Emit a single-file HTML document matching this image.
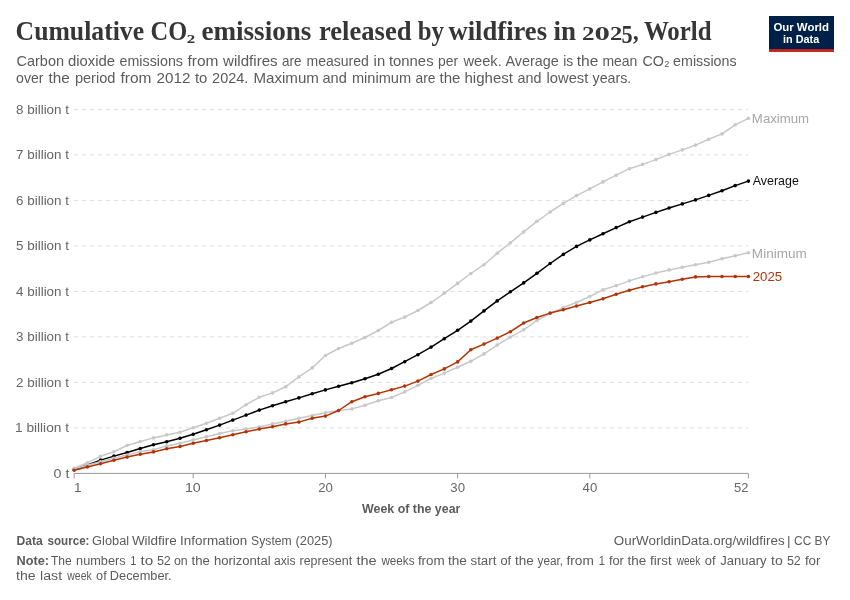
<!DOCTYPE html>
<html lang="en"><head><meta charset="utf-8"><title>Cumulative CO2 emissions released by wildfires in 2025, World</title>
<style>
html,body{margin:0;padding:0;background:#fff;}
body{width:850px;height:600px;overflow:hidden;font-family:"Liberation Sans",sans-serif;}
svg{display:block}
svg text{font-family:"Liberation Sans",sans-serif;white-space:pre;}
svg text.tt{font-family:"Liberation Serif",serif;}
</style></head><body>
<svg width="850" height="600" viewBox="0 0 850 600">
<rect width="850" height="600" fill="#fff"/>
<g id="logo">
<rect x="769" y="16" width="65" height="36" fill="#002147"/>
<rect x="769" y="49.2" width="65" height="2.8" fill="#ce261e"/>
<text x="773.40" y="30.8" font-weight="bold" font-size="11.3px" fill="#fff" textLength="55.60" lengthAdjust="spacingAndGlyphs">Our World</text>
<text x="783.00" y="42.6" font-weight="bold" font-size="11.3px" fill="#fff" textLength="36.21" lengthAdjust="spacingAndGlyphs">in Data</text>
</g>
<g id="grid">
<line x1="74.2" x2="748.4" y1="427.9" y2="427.9" stroke="#ddd" stroke-width="1" stroke-dasharray="4.1,3.9"/>
<line x1="74.2" x2="748.4" y1="382.4" y2="382.4" stroke="#ddd" stroke-width="1" stroke-dasharray="4.1,3.9"/>
<line x1="74.2" x2="748.4" y1="336.9" y2="336.9" stroke="#ddd" stroke-width="1" stroke-dasharray="4.1,3.9"/>
<line x1="74.2" x2="748.4" y1="291.4" y2="291.4" stroke="#ddd" stroke-width="1" stroke-dasharray="4.1,3.9"/>
<line x1="74.2" x2="748.4" y1="245.9" y2="245.9" stroke="#ddd" stroke-width="1" stroke-dasharray="4.1,3.9"/>
<line x1="74.2" x2="748.4" y1="200.4" y2="200.4" stroke="#ddd" stroke-width="1" stroke-dasharray="4.1,3.9"/>
<line x1="74.2" x2="748.4" y1="154.9" y2="154.9" stroke="#ddd" stroke-width="1" stroke-dasharray="4.1,3.9"/>
<line x1="74.2" x2="748.4" y1="109.4" y2="109.4" stroke="#ddd" stroke-width="1" stroke-dasharray="4.1,3.9"/>
</g>
<line x1="74.2" x2="748.4" y1="473.4" y2="473.4" stroke="#999" stroke-width="1"/>
<line x1="74.2" x2="74.2" y1="473.4" y2="478.4" stroke="#999" stroke-width="1"/>
<line x1="193.2" x2="193.2" y1="473.4" y2="478.4" stroke="#999" stroke-width="1"/>
<line x1="325.4" x2="325.4" y1="473.4" y2="478.4" stroke="#999" stroke-width="1"/>
<line x1="457.6" x2="457.6" y1="473.4" y2="478.4" stroke="#999" stroke-width="1"/>
<line x1="589.8" x2="589.8" y1="473.4" y2="478.4" stroke="#999" stroke-width="1"/>
<line x1="748.4" x2="748.4" y1="473.4" y2="478.4" stroke="#999" stroke-width="1"/>

<g id="series">
<g fill="#000000" stroke="none"><polyline points="74.2,469.5 87.4,465.0 100.6,460.1 113.9,456.1 127.1,452.5 140.3,448.5 153.5,444.7 166.7,441.7 180.0,438.3 193.2,434.3 206.4,429.7 219.6,425.1 232.8,420.1 246.1,415.1 259.3,410.1 272.5,405.7 285.7,401.7 298.9,397.9 312.2,393.7 325.4,389.9 338.6,386.3 351.8,382.7 365.0,378.7 378.3,374.2 391.5,368.5 404.7,361.7 417.9,354.7 431.1,347.1 444.3,338.7 457.6,330.3 470.8,321.1 484.0,310.9 497.2,300.9 510.4,291.8 523.7,282.9 536.9,273.3 550.1,263.5 563.3,254.4 576.5,246.4 589.8,239.9 603.0,233.7 616.2,227.6 629.4,221.8 642.6,217.1 655.9,212.4 669.1,208.0 682.3,203.9 695.5,199.9 708.7,195.4 722.0,190.8 735.2,185.6 748.4,181.1" fill="none" stroke="#000000" stroke-width="1.5" stroke-linejoin="round" stroke-linecap="round"/><circle cx="74.2" cy="469.5" r="1.8"/><circle cx="87.4" cy="465.0" r="1.8"/><circle cx="100.6" cy="460.1" r="1.8"/><circle cx="113.9" cy="456.1" r="1.8"/><circle cx="127.1" cy="452.5" r="1.8"/><circle cx="140.3" cy="448.5" r="1.8"/><circle cx="153.5" cy="444.7" r="1.8"/><circle cx="166.7" cy="441.7" r="1.8"/><circle cx="180.0" cy="438.3" r="1.8"/><circle cx="193.2" cy="434.3" r="1.8"/><circle cx="206.4" cy="429.7" r="1.8"/><circle cx="219.6" cy="425.1" r="1.8"/><circle cx="232.8" cy="420.1" r="1.8"/><circle cx="246.1" cy="415.1" r="1.8"/><circle cx="259.3" cy="410.1" r="1.8"/><circle cx="272.5" cy="405.7" r="1.8"/><circle cx="285.7" cy="401.7" r="1.8"/><circle cx="298.9" cy="397.9" r="1.8"/><circle cx="312.2" cy="393.7" r="1.8"/><circle cx="325.4" cy="389.9" r="1.8"/><circle cx="338.6" cy="386.3" r="1.8"/><circle cx="351.8" cy="382.7" r="1.8"/><circle cx="365.0" cy="378.7" r="1.8"/><circle cx="378.3" cy="374.2" r="1.8"/><circle cx="391.5" cy="368.5" r="1.8"/><circle cx="404.7" cy="361.7" r="1.8"/><circle cx="417.9" cy="354.7" r="1.8"/><circle cx="431.1" cy="347.1" r="1.8"/><circle cx="444.3" cy="338.7" r="1.8"/><circle cx="457.6" cy="330.3" r="1.8"/><circle cx="470.8" cy="321.1" r="1.8"/><circle cx="484.0" cy="310.9" r="1.8"/><circle cx="497.2" cy="300.9" r="1.8"/><circle cx="510.4" cy="291.8" r="1.8"/><circle cx="523.7" cy="282.9" r="1.8"/><circle cx="536.9" cy="273.3" r="1.8"/><circle cx="550.1" cy="263.5" r="1.8"/><circle cx="563.3" cy="254.4" r="1.8"/><circle cx="576.5" cy="246.4" r="1.8"/><circle cx="589.8" cy="239.9" r="1.8"/><circle cx="603.0" cy="233.7" r="1.8"/><circle cx="616.2" cy="227.6" r="1.8"/><circle cx="629.4" cy="221.8" r="1.8"/><circle cx="642.6" cy="217.1" r="1.8"/><circle cx="655.9" cy="212.4" r="1.8"/><circle cx="669.1" cy="208.0" r="1.8"/><circle cx="682.3" cy="203.9" r="1.8"/><circle cx="695.5" cy="199.9" r="1.8"/><circle cx="708.7" cy="195.4" r="1.8"/><circle cx="722.0" cy="190.8" r="1.8"/><circle cx="735.2" cy="185.6" r="1.8"/><circle cx="748.4" cy="181.1" r="1.8"/></g>
<g fill="#c8c8c8" stroke="none"><polyline points="74.2,468.3 87.4,462.7 100.6,456.3 113.9,451.7 127.1,445.5 140.3,441.5 153.5,437.9 166.7,434.9 180.0,432.3 193.2,427.7 206.4,423.3 219.6,418.3 232.8,413.3 246.1,404.7 259.3,397.3 272.5,392.9 285.7,386.7 298.9,376.9 312.2,367.9 325.4,355.5 338.6,348.5 351.8,343.3 365.0,337.5 378.3,330.5 391.5,322.3 404.7,317.1 417.9,310.5 431.1,302.5 444.3,293.3 457.6,283.4 470.8,273.5 484.0,264.7 497.2,253.2 510.4,242.8 523.7,231.9 536.9,221.3 550.1,212.0 563.3,203.4 576.5,195.6 589.8,188.9 603.0,181.9 616.2,175.2 629.4,168.7 642.6,164.4 655.9,159.6 669.1,154.4 682.3,149.9 695.5,145.1 708.7,139.3 722.0,133.9 735.2,124.8 748.4,118.3" fill="none" stroke="#c8c8c8" stroke-width="1.5" stroke-linejoin="round" stroke-linecap="round"/><circle cx="74.2" cy="468.3" r="1.8"/><circle cx="87.4" cy="462.7" r="1.8"/><circle cx="100.6" cy="456.3" r="1.8"/><circle cx="113.9" cy="451.7" r="1.8"/><circle cx="127.1" cy="445.5" r="1.8"/><circle cx="140.3" cy="441.5" r="1.8"/><circle cx="153.5" cy="437.9" r="1.8"/><circle cx="166.7" cy="434.9" r="1.8"/><circle cx="180.0" cy="432.3" r="1.8"/><circle cx="193.2" cy="427.7" r="1.8"/><circle cx="206.4" cy="423.3" r="1.8"/><circle cx="219.6" cy="418.3" r="1.8"/><circle cx="232.8" cy="413.3" r="1.8"/><circle cx="246.1" cy="404.7" r="1.8"/><circle cx="259.3" cy="397.3" r="1.8"/><circle cx="272.5" cy="392.9" r="1.8"/><circle cx="285.7" cy="386.7" r="1.8"/><circle cx="298.9" cy="376.9" r="1.8"/><circle cx="312.2" cy="367.9" r="1.8"/><circle cx="325.4" cy="355.5" r="1.8"/><circle cx="338.6" cy="348.5" r="1.8"/><circle cx="351.8" cy="343.3" r="1.8"/><circle cx="365.0" cy="337.5" r="1.8"/><circle cx="378.3" cy="330.5" r="1.8"/><circle cx="391.5" cy="322.3" r="1.8"/><circle cx="404.7" cy="317.1" r="1.8"/><circle cx="417.9" cy="310.5" r="1.8"/><circle cx="431.1" cy="302.5" r="1.8"/><circle cx="444.3" cy="293.3" r="1.8"/><circle cx="457.6" cy="283.4" r="1.8"/><circle cx="470.8" cy="273.5" r="1.8"/><circle cx="484.0" cy="264.7" r="1.8"/><circle cx="497.2" cy="253.2" r="1.8"/><circle cx="510.4" cy="242.8" r="1.8"/><circle cx="523.7" cy="231.9" r="1.8"/><circle cx="536.9" cy="221.3" r="1.8"/><circle cx="550.1" cy="212.0" r="1.8"/><circle cx="563.3" cy="203.4" r="1.8"/><circle cx="576.5" cy="195.6" r="1.8"/><circle cx="589.8" cy="188.9" r="1.8"/><circle cx="603.0" cy="181.9" r="1.8"/><circle cx="616.2" cy="175.2" r="1.8"/><circle cx="629.4" cy="168.7" r="1.8"/><circle cx="642.6" cy="164.4" r="1.8"/><circle cx="655.9" cy="159.6" r="1.8"/><circle cx="669.1" cy="154.4" r="1.8"/><circle cx="682.3" cy="149.9" r="1.8"/><circle cx="695.5" cy="145.1" r="1.8"/><circle cx="708.7" cy="139.3" r="1.8"/><circle cx="722.0" cy="133.9" r="1.8"/><circle cx="735.2" cy="124.8" r="1.8"/><circle cx="748.4" cy="118.3" r="1.8"/></g>
<g fill="#c8c8c8" stroke="none"><polyline points="74.2,468.9 87.4,465.2 100.6,461.7 113.9,458.3 127.1,455.1 140.3,451.6 153.5,449.7 166.7,445.9 180.0,443.3 193.2,439.9 206.4,436.7 219.6,433.5 232.8,430.7 246.1,428.9 259.3,427.1 272.5,423.9 285.7,421.3 298.9,418.3 312.2,415.5 325.4,412.7 338.6,410.5 351.8,408.9 365.0,405.3 378.3,400.8 391.5,397.5 404.7,391.9 417.9,385.3 431.1,378.5 444.3,373.1 457.6,367.3 470.8,361.3 484.0,353.9 497.2,345.1 510.4,337.1 523.7,329.8 536.9,320.5 550.1,313.6 563.3,307.5 576.5,302.5 589.8,296.5 603.0,289.7 616.2,285.6 629.4,280.9 642.6,276.7 655.9,273.1 669.1,269.9 682.3,267.2 695.5,264.8 708.7,262.2 722.0,258.8 735.2,255.7 748.4,252.7" fill="none" stroke="#c8c8c8" stroke-width="1.5" stroke-linejoin="round" stroke-linecap="round"/><circle cx="74.2" cy="468.9" r="1.8"/><circle cx="87.4" cy="465.2" r="1.8"/><circle cx="100.6" cy="461.7" r="1.8"/><circle cx="113.9" cy="458.3" r="1.8"/><circle cx="127.1" cy="455.1" r="1.8"/><circle cx="140.3" cy="451.6" r="1.8"/><circle cx="153.5" cy="449.7" r="1.8"/><circle cx="166.7" cy="445.9" r="1.8"/><circle cx="180.0" cy="443.3" r="1.8"/><circle cx="193.2" cy="439.9" r="1.8"/><circle cx="206.4" cy="436.7" r="1.8"/><circle cx="219.6" cy="433.5" r="1.8"/><circle cx="232.8" cy="430.7" r="1.8"/><circle cx="246.1" cy="428.9" r="1.8"/><circle cx="259.3" cy="427.1" r="1.8"/><circle cx="272.5" cy="423.9" r="1.8"/><circle cx="285.7" cy="421.3" r="1.8"/><circle cx="298.9" cy="418.3" r="1.8"/><circle cx="312.2" cy="415.5" r="1.8"/><circle cx="325.4" cy="412.7" r="1.8"/><circle cx="338.6" cy="410.5" r="1.8"/><circle cx="351.8" cy="408.9" r="1.8"/><circle cx="365.0" cy="405.3" r="1.8"/><circle cx="378.3" cy="400.8" r="1.8"/><circle cx="391.5" cy="397.5" r="1.8"/><circle cx="404.7" cy="391.9" r="1.8"/><circle cx="417.9" cy="385.3" r="1.8"/><circle cx="431.1" cy="378.5" r="1.8"/><circle cx="444.3" cy="373.1" r="1.8"/><circle cx="457.6" cy="367.3" r="1.8"/><circle cx="470.8" cy="361.3" r="1.8"/><circle cx="484.0" cy="353.9" r="1.8"/><circle cx="497.2" cy="345.1" r="1.8"/><circle cx="510.4" cy="337.1" r="1.8"/><circle cx="523.7" cy="329.8" r="1.8"/><circle cx="536.9" cy="320.5" r="1.8"/><circle cx="550.1" cy="313.6" r="1.8"/><circle cx="563.3" cy="307.5" r="1.8"/><circle cx="576.5" cy="302.5" r="1.8"/><circle cx="589.8" cy="296.5" r="1.8"/><circle cx="603.0" cy="289.7" r="1.8"/><circle cx="616.2" cy="285.6" r="1.8"/><circle cx="629.4" cy="280.9" r="1.8"/><circle cx="642.6" cy="276.7" r="1.8"/><circle cx="655.9" cy="273.1" r="1.8"/><circle cx="669.1" cy="269.9" r="1.8"/><circle cx="682.3" cy="267.2" r="1.8"/><circle cx="695.5" cy="264.8" r="1.8"/><circle cx="708.7" cy="262.2" r="1.8"/><circle cx="722.0" cy="258.8" r="1.8"/><circle cx="735.2" cy="255.7" r="1.8"/><circle cx="748.4" cy="252.7" r="1.8"/></g>
<g fill="#B13507" stroke="none"><polyline points="74.2,470.3 87.4,466.9 100.6,463.7 113.9,460.3 127.1,457.1 140.3,454.3 153.5,451.9 166.7,448.7 180.0,446.5 193.2,443.3 206.4,440.5 219.6,437.8 232.8,434.7 246.1,431.7 259.3,429.1 272.5,426.7 285.7,423.9 298.9,422.1 312.2,418.3 325.4,416.1 338.6,410.5 351.8,401.7 365.0,396.7 378.3,393.4 391.5,389.7 404.7,386.1 417.9,381.1 431.1,374.5 444.3,368.9 457.6,361.9 470.8,349.7 484.0,344.1 497.2,338.1 510.4,331.7 523.7,323.0 536.9,317.5 550.1,313.1 563.3,309.7 576.5,306.0 589.8,302.5 603.0,298.8 616.2,294.3 629.4,290.2 642.6,286.7 655.9,283.9 669.1,281.7 682.3,279.3 695.5,276.9 708.7,276.5 722.0,276.5 735.2,276.5 748.4,276.5" fill="none" stroke="#B13507" stroke-width="1.5" stroke-linejoin="round" stroke-linecap="round"/><circle cx="74.2" cy="470.3" r="1.8"/><circle cx="87.4" cy="466.9" r="1.8"/><circle cx="100.6" cy="463.7" r="1.8"/><circle cx="113.9" cy="460.3" r="1.8"/><circle cx="127.1" cy="457.1" r="1.8"/><circle cx="140.3" cy="454.3" r="1.8"/><circle cx="153.5" cy="451.9" r="1.8"/><circle cx="166.7" cy="448.7" r="1.8"/><circle cx="180.0" cy="446.5" r="1.8"/><circle cx="193.2" cy="443.3" r="1.8"/><circle cx="206.4" cy="440.5" r="1.8"/><circle cx="219.6" cy="437.8" r="1.8"/><circle cx="232.8" cy="434.7" r="1.8"/><circle cx="246.1" cy="431.7" r="1.8"/><circle cx="259.3" cy="429.1" r="1.8"/><circle cx="272.5" cy="426.7" r="1.8"/><circle cx="285.7" cy="423.9" r="1.8"/><circle cx="298.9" cy="422.1" r="1.8"/><circle cx="312.2" cy="418.3" r="1.8"/><circle cx="325.4" cy="416.1" r="1.8"/><circle cx="338.6" cy="410.5" r="1.8"/><circle cx="351.8" cy="401.7" r="1.8"/><circle cx="365.0" cy="396.7" r="1.8"/><circle cx="378.3" cy="393.4" r="1.8"/><circle cx="391.5" cy="389.7" r="1.8"/><circle cx="404.7" cy="386.1" r="1.8"/><circle cx="417.9" cy="381.1" r="1.8"/><circle cx="431.1" cy="374.5" r="1.8"/><circle cx="444.3" cy="368.9" r="1.8"/><circle cx="457.6" cy="361.9" r="1.8"/><circle cx="470.8" cy="349.7" r="1.8"/><circle cx="484.0" cy="344.1" r="1.8"/><circle cx="497.2" cy="338.1" r="1.8"/><circle cx="510.4" cy="331.7" r="1.8"/><circle cx="523.7" cy="323.0" r="1.8"/><circle cx="536.9" cy="317.5" r="1.8"/><circle cx="550.1" cy="313.1" r="1.8"/><circle cx="563.3" cy="309.7" r="1.8"/><circle cx="576.5" cy="306.0" r="1.8"/><circle cx="589.8" cy="302.5" r="1.8"/><circle cx="603.0" cy="298.8" r="1.8"/><circle cx="616.2" cy="294.3" r="1.8"/><circle cx="629.4" cy="290.2" r="1.8"/><circle cx="642.6" cy="286.7" r="1.8"/><circle cx="655.9" cy="283.9" r="1.8"/><circle cx="669.1" cy="281.7" r="1.8"/><circle cx="682.3" cy="279.3" r="1.8"/><circle cx="695.5" cy="276.9" r="1.8"/><circle cx="708.7" cy="276.5" r="1.8"/><circle cx="722.0" cy="276.5" r="1.8"/><circle cx="735.2" cy="276.5" r="1.8"/><circle cx="748.4" cy="276.5" r="1.8"/></g>
</g>
<g id="text">
<text x="15.57" y="39.7" class="tt" font-weight="bold" font-size="27.5px" fill="#363636" textLength="128.53" lengthAdjust="spacingAndGlyphs">Cumulative</text>
<text x="150.51" y="39.7" class="tt" font-weight="bold" font-size="27.5px" fill="#363636" textLength="36.63" lengthAdjust="spacingAndGlyphs">CO</text>
<text x="201.40" y="39.7" class="tt" font-weight="bold" font-size="27.5px" fill="#363636" textLength="110.01" lengthAdjust="spacingAndGlyphs">emissions</text>
<text x="318.90" y="39.7" class="tt" font-weight="bold" font-size="27.5px" fill="#363636" textLength="92.68" lengthAdjust="spacingAndGlyphs">released</text>
<text x="417.70" y="39.7" class="tt" font-weight="bold" font-size="27.5px" fill="#363636" textLength="26.27" lengthAdjust="spacingAndGlyphs">by</text>
<text x="448.50" y="39.7" class="tt" font-weight="bold" font-size="27.5px" fill="#363636" textLength="98.51" lengthAdjust="spacingAndGlyphs">wildfires</text>
<text x="553.50" y="39.7" class="tt" font-weight="bold" font-size="27.5px" fill="#363636" textLength="22.49" lengthAdjust="spacingAndGlyphs">in</text>
<text x="643.90" y="39.7" class="tt" font-weight="bold" font-size="27.5px" fill="#363636" textLength="67.67" lengthAdjust="spacingAndGlyphs">World</text>
<text x="186.80" y="43.0" class="tt" font-weight="bold" font-size="12.5px" fill="#363636" textLength="8.44" lengthAdjust="spacingAndGlyphs">2</text>
<text x="581.90" y="39.7" class="tt" font-weight="bold" font-size="19.5px" fill="#363636" textLength="12.46" lengthAdjust="spacingAndGlyphs">2</text>
<text x="594.50" y="39.7" class="tt" font-weight="bold" font-size="19.5px" fill="#363636" textLength="15.38" lengthAdjust="spacingAndGlyphs">0</text>
<text x="610.10" y="39.7" class="tt" font-weight="bold" font-size="19.5px" fill="#363636" textLength="12.24" lengthAdjust="spacingAndGlyphs">2</text>
<text x="621.62" y="43.2" class="tt" font-weight="bold" font-size="25.3px" fill="#363636" textLength="11.15" lengthAdjust="spacingAndGlyphs">5</text>
<text x="633.00" y="39.7" class="tt" font-weight="bold" font-size="26px" fill="#363636" textLength="5.63" lengthAdjust="spacingAndGlyphs">,</text>
<text x="16.50" y="66.0" font-size="14.6px" fill="#5b5b5b" textLength="47.52" lengthAdjust="spacingAndGlyphs">Carbon</text>
<text x="67.90" y="66.0" font-size="14.6px" fill="#5b5b5b" textLength="47.12" lengthAdjust="spacingAndGlyphs">dioxide</text>
<text x="119.50" y="66.0" font-size="14.6px" fill="#5b5b5b" textLength="63.49" lengthAdjust="spacingAndGlyphs">emissions</text>
<text x="187.50" y="66.0" font-size="14.6px" fill="#5b5b5b" textLength="30.97" lengthAdjust="spacingAndGlyphs">from</text>
<text x="223.13" y="66.0" font-size="14.6px" fill="#5b5b5b" textLength="54.47" lengthAdjust="spacingAndGlyphs">wildfires</text>
<text x="281.90" y="66.0" font-size="14.6px" fill="#5b5b5b" textLength="19.51" lengthAdjust="spacingAndGlyphs">are</text>
<text x="306.50" y="66.0" font-size="14.6px" fill="#5b5b5b" textLength="62.31" lengthAdjust="spacingAndGlyphs">measured</text>
<text x="373.60" y="66.0" font-size="14.6px" fill="#5b5b5b" textLength="11.52" lengthAdjust="spacingAndGlyphs">in</text>
<text x="388.90" y="66.0" font-size="14.6px" fill="#5b5b5b" textLength="44.70" lengthAdjust="spacingAndGlyphs">tonnes</text>
<text x="438.10" y="66.0" font-size="14.6px" fill="#5b5b5b" textLength="20.07" lengthAdjust="spacingAndGlyphs">per</text>
<text x="463.50" y="66.0" font-size="14.6px" fill="#5b5b5b" textLength="38.25" lengthAdjust="spacingAndGlyphs">week.</text>
<text x="505.50" y="66.0" font-size="14.6px" fill="#5b5b5b" textLength="53.21" lengthAdjust="spacingAndGlyphs">Average</text>
<text x="563.30" y="66.0" font-size="14.6px" fill="#5b5b5b" textLength="9.98" lengthAdjust="spacingAndGlyphs">is</text>
<text x="576.80" y="66.0" font-size="14.6px" fill="#5b5b5b" textLength="21.62" lengthAdjust="spacingAndGlyphs">the</text>
<text x="602.40" y="66.0" font-size="14.6px" fill="#5b5b5b" textLength="35.01" lengthAdjust="spacingAndGlyphs">mean</text>
<text x="642.50" y="66.0" font-size="14.6px" fill="#5b5b5b" textLength="27.05" lengthAdjust="spacingAndGlyphs">CO₂</text>
<text x="673.10" y="66.0" font-size="14.6px" fill="#5b5b5b" textLength="63.49" lengthAdjust="spacingAndGlyphs">emissions</text>
<text x="16.10" y="83.4" font-size="14.6px" fill="#5b5b5b" textLength="27.46" lengthAdjust="spacingAndGlyphs">over</text>
<text x="48.50" y="83.4" font-size="14.6px" fill="#5b5b5b" textLength="21.32" lengthAdjust="spacingAndGlyphs">the</text>
<text x="74.90" y="83.4" font-size="14.6px" fill="#5b5b5b" textLength="40.52" lengthAdjust="spacingAndGlyphs">period</text>
<text x="120.50" y="83.4" font-size="14.6px" fill="#5b5b5b" textLength="30.97" lengthAdjust="spacingAndGlyphs">from</text>
<text x="156.50" y="83.4" font-size="14.6px" fill="#5b5b5b" textLength="33.92" lengthAdjust="spacingAndGlyphs">2012</text>
<text x="194.90" y="83.4" font-size="14.6px" fill="#5b5b5b" textLength="12.52" lengthAdjust="spacingAndGlyphs">to</text>
<text x="212.10" y="83.4" font-size="14.6px" fill="#5b5b5b" textLength="36.25" lengthAdjust="spacingAndGlyphs">2024.</text>
<text x="253.46" y="83.4" font-size="14.6px" fill="#5b5b5b" textLength="65.50" lengthAdjust="spacingAndGlyphs">Maximum</text>
<text x="322.50" y="83.4" font-size="14.6px" fill="#5b5b5b" textLength="24.32" lengthAdjust="spacingAndGlyphs">and</text>
<text x="351.90" y="83.4" font-size="14.6px" fill="#5b5b5b" textLength="59.16" lengthAdjust="spacingAndGlyphs">minimum</text>
<text x="415.50" y="83.4" font-size="14.6px" fill="#5b5b5b" textLength="19.91" lengthAdjust="spacingAndGlyphs">are</text>
<text x="439.50" y="83.4" font-size="14.6px" fill="#5b5b5b" textLength="20.92" lengthAdjust="spacingAndGlyphs">the</text>
<text x="464.47" y="83.4" font-size="14.6px" fill="#5b5b5b" textLength="48.49" lengthAdjust="spacingAndGlyphs">highest</text>
<text x="517.50" y="83.4" font-size="14.6px" fill="#5b5b5b" textLength="23.91" lengthAdjust="spacingAndGlyphs">and</text>
<text x="546.50" y="83.4" font-size="14.6px" fill="#5b5b5b" textLength="41.86" lengthAdjust="spacingAndGlyphs">lowest</text>
<text x="592.50" y="83.4" font-size="14.6px" fill="#5b5b5b" textLength="38.83" lengthAdjust="spacingAndGlyphs">years.</text>
<text x="15.06" y="432.1" font-size="13.2px" fill="#666" textLength="53.89" lengthAdjust="spacingAndGlyphs">1 billion t</text>
<text x="16.10" y="386.6" font-size="13.2px" fill="#666" textLength="52.86" lengthAdjust="spacingAndGlyphs">2 billion t</text>
<text x="16.10" y="341.1" font-size="13.2px" fill="#666" textLength="52.86" lengthAdjust="spacingAndGlyphs">3 billion t</text>
<text x="16.10" y="295.6" font-size="13.2px" fill="#666" textLength="52.86" lengthAdjust="spacingAndGlyphs">4 billion t</text>
<text x="16.10" y="250.1" font-size="13.2px" fill="#666" textLength="52.86" lengthAdjust="spacingAndGlyphs">5 billion t</text>
<text x="16.10" y="204.6" font-size="13.2px" fill="#666" textLength="52.86" lengthAdjust="spacingAndGlyphs">6 billion t</text>
<text x="16.10" y="159.1" font-size="13.2px" fill="#666" textLength="52.86" lengthAdjust="spacingAndGlyphs">7 billion t</text>
<text x="16.10" y="113.6" font-size="13.2px" fill="#666" textLength="52.86" lengthAdjust="spacingAndGlyphs">8 billion t</text>
<text x="53.50" y="477.8" font-size="13.4px" fill="#666" textLength="15.90" lengthAdjust="spacingAndGlyphs">0 t</text>
<text x="74.10" y="491.9" font-size="13.5px" fill="#666" textLength="7.51" lengthAdjust="spacingAndGlyphs">1</text>
<text x="184.93" y="491.8" font-size="13.5px" fill="#666" textLength="15.79" lengthAdjust="spacingAndGlyphs">10</text>
<text x="318.17" y="491.8" font-size="13.5px" fill="#666" textLength="14.70" lengthAdjust="spacingAndGlyphs">20</text>
<text x="450.37" y="491.8" font-size="13.5px" fill="#666" textLength="14.70" lengthAdjust="spacingAndGlyphs">30</text>
<text x="582.56" y="491.8" font-size="13.5px" fill="#666" textLength="14.70" lengthAdjust="spacingAndGlyphs">40</text>
<text x="733.90" y="491.8" font-size="13.5px" fill="#666" textLength="14.49" lengthAdjust="spacingAndGlyphs">52</text>
<text x="362.10" y="512.6" font-weight="bold" font-size="12px" fill="#5b5b5b" textLength="98.26" lengthAdjust="spacingAndGlyphs">Week of the year</text>
<text x="751.88" y="122.6" font-size="13px" fill="#a6a6a6" textLength="57.26" lengthAdjust="spacingAndGlyphs">Maximum</text>
<text x="752.70" y="185.3" font-size="13px" fill="#111" textLength="46.12" lengthAdjust="spacingAndGlyphs">Average</text>
<text x="751.86" y="257.5" font-size="13px" fill="#a6a6a6" textLength="54.90" lengthAdjust="spacingAndGlyphs">Minimum</text>
<text x="752.70" y="281.4" font-size="13.5px" fill="#B13507" textLength="29.50" lengthAdjust="spacingAndGlyphs">2025</text>
<text x="16.50" y="545.0" font-weight="bold" font-size="12.5px" fill="#5b5b5b" textLength="26.19" lengthAdjust="spacingAndGlyphs">Data</text>
<text x="47.50" y="545.0" font-weight="bold" font-size="12.5px" fill="#5b5b5b" textLength="41.98" lengthAdjust="spacingAndGlyphs">source:</text>
<text x="92.10" y="545.0" font-size="12.5px" fill="#5b5b5b" textLength="37.00" lengthAdjust="spacingAndGlyphs">Global</text>
<text x="131.90" y="545.0" font-size="12.5px" fill="#5b5b5b" textLength="44.95" lengthAdjust="spacingAndGlyphs">Wildfire</text>
<text x="180.02" y="545.0" font-size="12.5px" fill="#5b5b5b" textLength="67.22" lengthAdjust="spacingAndGlyphs">Information</text>
<text x="251.10" y="545.0" font-size="12.5px" fill="#5b5b5b" textLength="40.60" lengthAdjust="spacingAndGlyphs">System</text>
<text x="295.50" y="545.0" font-size="12.5px" fill="#5b5b5b" textLength="37.07" lengthAdjust="spacingAndGlyphs">(2025)</text>
<text x="613.80" y="545.0" font-size="12.5px" fill="#5b5b5b" textLength="170.77" lengthAdjust="spacingAndGlyphs">OurWorldinData.org/wildfires</text>
<text x="787.00" y="545.0" font-size="12.5px" fill="#5b5b5b" textLength="3.57" lengthAdjust="spacingAndGlyphs">|</text>
<text x="794.10" y="545.0" font-size="12.5px" fill="#5b5b5b" textLength="17.23" lengthAdjust="spacingAndGlyphs">CC</text>
<text x="814.55" y="545.0" font-size="12.5px" fill="#5b5b5b" textLength="15.92" lengthAdjust="spacingAndGlyphs">BY</text>
<text x="16.50" y="565.0" font-weight="bold" font-size="12.5px" fill="#5b5b5b" textLength="32.59" lengthAdjust="spacingAndGlyphs">Note:</text>
<text x="50.90" y="565.0" font-size="12.5px" fill="#5b5b5b" textLength="20.75" lengthAdjust="spacingAndGlyphs">The</text>
<text x="76.10" y="565.0" font-size="12.5px" fill="#5b5b5b" textLength="49.45" lengthAdjust="spacingAndGlyphs">numbers</text>
<text x="130.30" y="565.0" font-size="12.5px" fill="#5b5b5b" textLength="6.16" lengthAdjust="spacingAndGlyphs">1</text>
<text x="140.50" y="565.0" font-size="12.5px" fill="#5b5b5b" textLength="12.74" lengthAdjust="spacingAndGlyphs">to</text>
<text x="156.90" y="565.0" font-size="12.5px" fill="#5b5b5b" textLength="13.95" lengthAdjust="spacingAndGlyphs">52</text>
<text x="173.90" y="565.0" font-size="12.5px" fill="#5b5b5b" textLength="13.75" lengthAdjust="spacingAndGlyphs">on</text>
<text x="191.50" y="565.0" font-size="12.5px" fill="#5b5b5b" textLength="18.35" lengthAdjust="spacingAndGlyphs">the</text>
<text x="213.90" y="565.0" font-size="12.5px" fill="#5b5b5b" textLength="56.81" lengthAdjust="spacingAndGlyphs">horizontal</text>
<text x="273.90" y="565.0" font-size="12.5px" fill="#5b5b5b" textLength="21.64" lengthAdjust="spacingAndGlyphs">axis</text>
<text x="299.50" y="565.0" font-size="12.5px" fill="#5b5b5b" textLength="52.67" lengthAdjust="spacingAndGlyphs">represent</text>
<text x="356.50" y="565.0" font-size="12.5px" fill="#5b5b5b" textLength="20.14" lengthAdjust="spacingAndGlyphs">the</text>
<text x="381.43" y="565.0" font-size="12.5px" fill="#5b5b5b" textLength="33.10" lengthAdjust="spacingAndGlyphs">weeks</text>
<text x="417.90" y="565.0" font-size="12.5px" fill="#5b5b5b" textLength="26.84" lengthAdjust="spacingAndGlyphs">from</text>
<text x="447.90" y="565.0" font-size="12.5px" fill="#5b5b5b" textLength="18.95" lengthAdjust="spacingAndGlyphs">the</text>
<text x="470.50" y="565.0" font-size="12.5px" fill="#5b5b5b" textLength="25.84" lengthAdjust="spacingAndGlyphs">start</text>
<text x="500.50" y="565.0" font-size="12.5px" fill="#5b5b5b" textLength="10.66" lengthAdjust="spacingAndGlyphs">of</text>
<text x="515.10" y="565.0" font-size="12.5px" fill="#5b5b5b" textLength="18.75" lengthAdjust="spacingAndGlyphs">the</text>
<text x="537.50" y="565.0" font-size="12.5px" fill="#5b5b5b" textLength="25.65" lengthAdjust="spacingAndGlyphs">year,</text>
<text x="566.50" y="565.0" font-size="12.5px" fill="#5b5b5b" textLength="27.25" lengthAdjust="spacingAndGlyphs">from</text>
<text x="598.70" y="565.0" font-size="12.5px" fill="#5b5b5b" textLength="6.16" lengthAdjust="spacingAndGlyphs">1</text>
<text x="608.90" y="565.0" font-size="12.5px" fill="#5b5b5b" textLength="14.97" lengthAdjust="spacingAndGlyphs">for</text>
<text x="627.50" y="565.0" font-size="12.5px" fill="#5b5b5b" textLength="18.75" lengthAdjust="spacingAndGlyphs">the</text>
<text x="650.10" y="565.0" font-size="12.5px" fill="#5b5b5b" textLength="21.63" lengthAdjust="spacingAndGlyphs">first</text>
<text x="676.71" y="565.0" font-size="12.5px" fill="#5b5b5b" textLength="23.49" lengthAdjust="spacingAndGlyphs">week</text>
<text x="704.80" y="565.0" font-size="12.5px" fill="#5b5b5b" textLength="10.76" lengthAdjust="spacingAndGlyphs">of</text>
<text x="720.30" y="565.0" font-size="12.5px" fill="#5b5b5b" textLength="46.22" lengthAdjust="spacingAndGlyphs">January</text>
<text x="771.10" y="565.0" font-size="12.5px" fill="#5b5b5b" textLength="11.75" lengthAdjust="spacingAndGlyphs">to</text>
<text x="786.90" y="565.0" font-size="12.5px" fill="#5b5b5b" textLength="13.95" lengthAdjust="spacingAndGlyphs">52</text>
<text x="804.90" y="565.0" font-size="12.5px" fill="#5b5b5b" textLength="15.57" lengthAdjust="spacingAndGlyphs">for</text>
<text x="16.10" y="580.0" font-size="12.5px" fill="#5b5b5b" textLength="19.55" lengthAdjust="spacingAndGlyphs">the</text>
<text x="40.10" y="580.0" font-size="12.5px" fill="#5b5b5b" textLength="22.00" lengthAdjust="spacingAndGlyphs">last</text>
<text x="67.33" y="580.0" font-size="12.5px" fill="#5b5b5b" textLength="24.34" lengthAdjust="spacingAndGlyphs">week</text>
<text x="96.10" y="580.0" font-size="12.5px" fill="#5b5b5b" textLength="10.66" lengthAdjust="spacingAndGlyphs">of</text>
<text x="109.88" y="580.0" font-size="12.5px" fill="#5b5b5b" textLength="61.81" lengthAdjust="spacingAndGlyphs">December.</text>
</g>
</svg>
</body></html>
